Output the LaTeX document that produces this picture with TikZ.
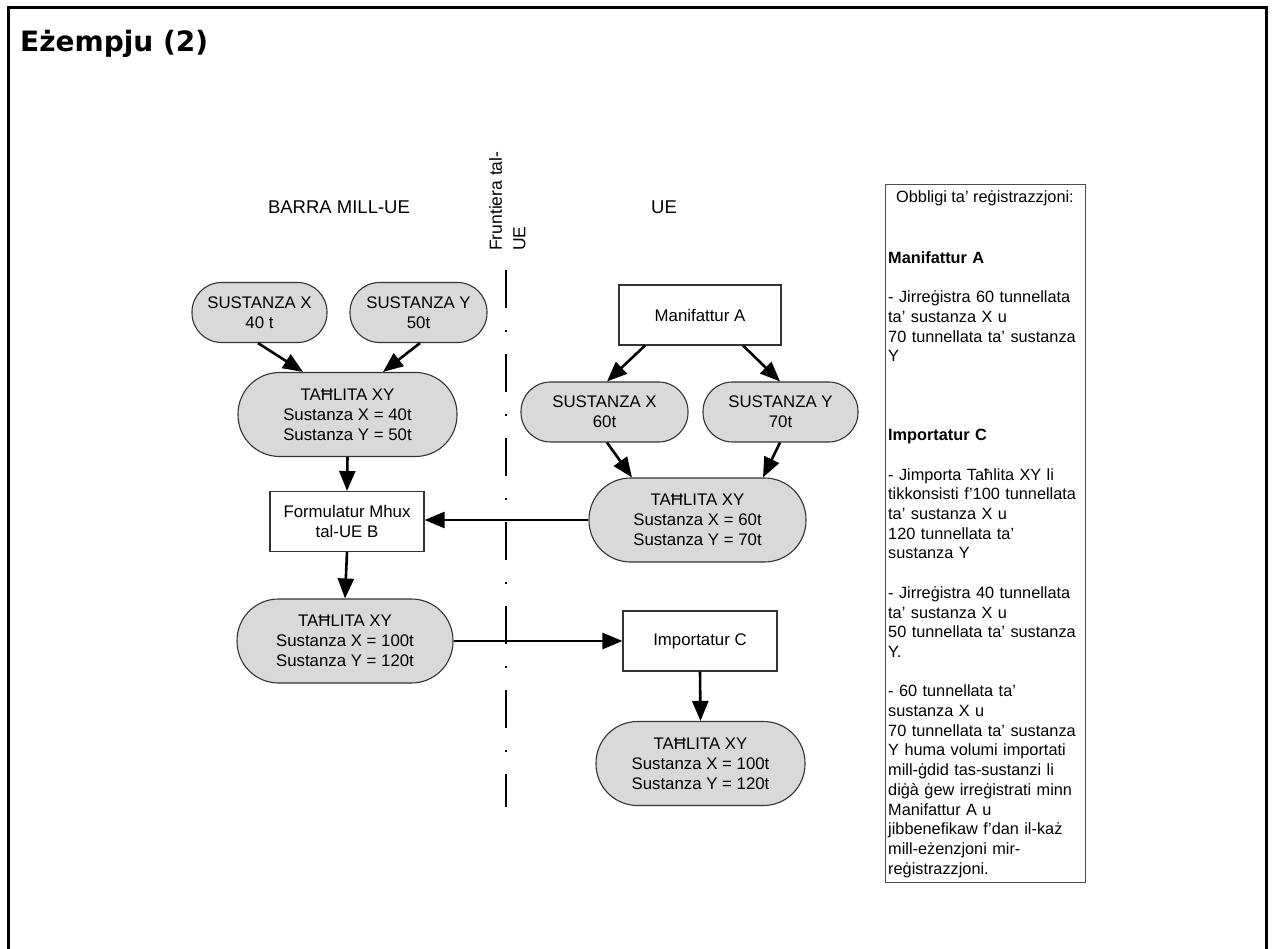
\documentclass[tikz,border=0pt]{standalone}
\usepackage{fontspec}
\setmainfont{Liberation Sans}
\newfontfamily\titlefont{DejaVu Sans}
\usetikzlibrary{arrows.meta,calc}
\begin{document}
\begin{tikzpicture}[x=1pt,y=-1pt,
  pill/.style={draw=black!80, line width=1.1pt, fill=black!15, align=center, inner sep=0pt, font=\fontsize{16.8}{20}\selectfont},
  spill/.style={pill, minimum height=60, rounded corners=29.5},
  bpill/.style={pill, minimum height=84, rounded corners=41.5},
  rbox/.style={draw=black!80, line width=1.1pt, fill=white, align=center, inner sep=0pt, minimum height=60, font=\fontsize{16.8}{20}\selectfont},
  arr/.style={line width=2.6pt, -{Triangle[length=20pt,width=16pt]}},
  lbl/.style={font=\fontsize{18.5}{22}\selectfont, inner sep=0pt}
]
\useasboundingbox (0,0) rectangle (1272,949);
\fill[white] (0,0) rectangle (1272,949);
% frame
\draw[line width=3pt] (8,949) -- (8,8) -- (1266,8) -- (1266,949);
% title
\node[anchor=base west, inner sep=0pt, font=\titlefont\bfseries\fontsize{28}{32}\selectfont] (title) at (20,52) {Eżempju (2)};
% region labels
\node[lbl] (barra) at (339,207) {BARRA MILL-UE};
\node[lbl] (ue) at (664,207) {UE};
\node[rotate=90, anchor=north west, align=left, inner sep=0pt, font=\fontsize{17.5}{23.5}\selectfont] (front) at (489,251) {Fruntiera tal-\\UE};
% border line
\draw[line width=2.6pt, dash pattern=on 38pt off 22pt on 2pt off 22pt] (506,270) -- (506,807);
% nodes left
\node[spill, minimum width=135] (sx1) at (259.5,312.5) {SUSTANZA X\\40 t};
\node[spill, minimum width=137] (sy1) at (418.5,312.5) {SUSTANZA Y\\50t};
\node[bpill, minimum width=219] (t1) at (347.5,414.5) {TAĦLITA XY\\Sustanza X = 40t\\Sustanza Y = 50t};
\node[rbox, minimum width=154] (fmb) at (347,521.5) {Formulatur Mhux\\tal-UE B};
\node[bpill, minimum width=216] (t2) at (345,641) {TAĦLITA XY\\Sustanza X = 100t\\Sustanza Y = 120t};
% nodes right
\node[rbox, minimum width=162] (mana) at (700,315) {Manifattur A};
\node[spill, minimum width=167] (sx2) at (604.5,412) {SUSTANZA X\\60t};
\node[spill, minimum width=155] (sy2) at (780.5,412) {SUSTANZA Y\\70t};
\node[bpill, minimum width=217] (t3) at (697.5,520) {TAĦLITA XY\\Sustanza X = 60t\\Sustanza Y = 70t};
\node[rbox, minimum width=154] (impc) at (700,641) {Importatur C};
\node[bpill, minimum width=209] (t4) at (700.5,763.5) {TAĦLITA XY\\Sustanza X = 100t\\Sustanza Y = 120t};
% arrows
\draw[arr] ([xshift=-1.5pt]sx1.south) -- ([xshift=-44.5pt]t1.north);
\draw[arr] ([xshift=1.5pt]sy1.south) -- ([xshift=35.5pt]t1.north);
\draw[arr] (t1.south) -- (fmb.north);
\draw[arr] (fmb.south) -- (t2.north);
\draw[arr] (t2.east) -- (impc.west);
\draw[arr] (t3.west) -- (t3.west -| fmb.east);
\draw[arr] (impc.south) -- (t4.north);
\draw[arr] ([xshift=-55pt]mana.south) -- ([xshift=2.5pt]sx2.north);
\draw[arr] ([xshift=43pt]mana.south) -- ([xshift=-0.5pt]sy2.north);
\draw[arr] ([xshift=2.5pt]sx2.south) -- ([xshift=-65.5pt]t3.north);
\draw[arr] ([xshift=-0.5pt]sy2.south) -- ([xshift=65.5pt]t3.north);
% obligations box
\node[draw=black!70, line width=1.3pt, minimum width=200, minimum height=698, anchor=north west, inner sep=0pt] (obox) at (885,184) {};
\node[inner sep=0pt, font=\fontsize{16.3}{19.7}\selectfont] (otitle) at (985,198) {Obbligi ta’ reġistrazzjoni:};
\node[anchor=base west, text width=195pt, align=left, inner sep=0pt, font=\fontsize{16.3}{19.7}\selectfont] (otext) at (888,263.5) {\textbf{Manifattur A}\\[19.7pt]
- Jirreġistra 60 tunnellata\\
ta’ sustanza X u\\
70 tunnellata ta’ sustanza\\
Y\\[59.1pt]
\textbf{Importatur C}\\[19.7pt]
- Jimporta Taħlita XY li\\
tikkonsisti f’100 tunnellata\\
ta’ sustanza X u\\
120 tunnellata ta’\\
sustanza Y\\[19.7pt]
- Jirreġistra 40 tunnellata\\
ta’ sustanza X u\\
50 tunnellata ta’ sustanza\\
Y.\\[19.7pt]
- 60 tunnellata ta’\\
sustanza X u\\
70 tunnellata ta’ sustanza\\
Y huma volumi importati\\
mill-ġdid tas-sustanzi li\\
diġà ġew irreġistrati minn\\
Manifattur A u\\
jibbenefikaw f’dan il-każ\\
mill-eżenzjoni mir-\\
reġistrazzjoni.};
\end{tikzpicture}
\end{document}
